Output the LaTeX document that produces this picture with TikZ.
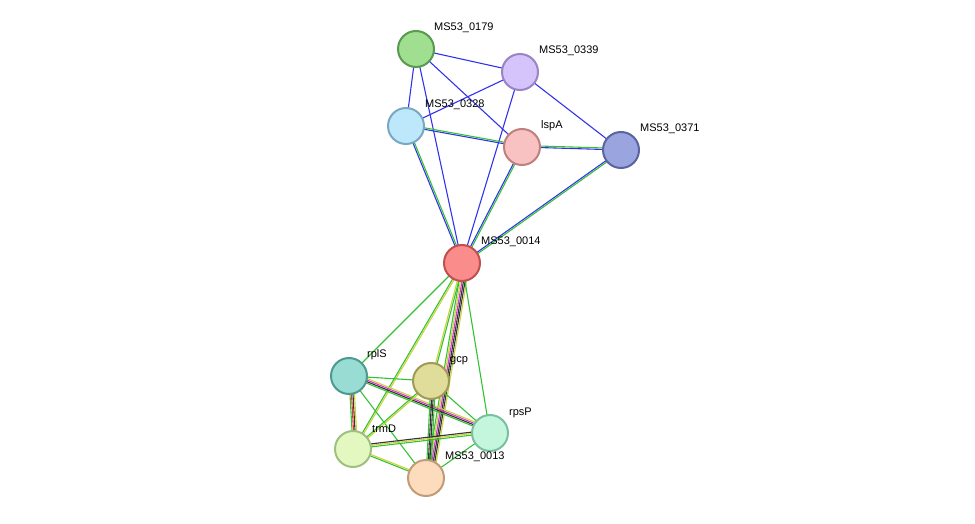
\documentclass[tikz,border=0pt]{standalone}
\usepackage{fontspec}
\setmainfont{Liberation Sans}
\usetikzlibrary{calc}
\definecolor{eg}{HTML}{33C233}
\definecolor{eb}{HTML}{3333EE}
\definecolor{ey}{HTML}{C8D43A}
\definecolor{em}{HTML}{DD33DD}
\definecolor{ek}{HTML}{333333}
\definecolor{er}{HTML}{EE3333}
\tikzset{x=1pt,y=-1pt,
 nd/.style={circle,minimum size=36pt,inner sep=0pt,line width=2pt},
 lb/.style={font=\fontsize{11}{12}\selectfont,anchor=south west,inner sep=0pt},
 ed/.style={line width=1.1pt}}
\newcommand\medge[3]{%
 \foreach \c [count=\i] in {#3}{%
  \pgfmathsetmacro\off{(\i-1)*1.5}%
  \draw[ed,\c] ($(#1)!\off pt!90:(#2)$) -- ($(#2)!\off pt!-90:(#1)$);}}
\begin{document}
\begin{tikzpicture}
\useasboundingbox (0,0) rectangle (975,524);
\coordinate (a) at (416,49);
\coordinate (b) at (520,72);
\coordinate (c) at (406,126);
\coordinate (d) at (522,147);
\coordinate (e) at (621,150);
\coordinate (f) at (462,263);
\coordinate (g) at (349,376);
\coordinate (h) at (431,381);
\coordinate (i) at (490,433);
\coordinate (j) at (353,449);
\coordinate (k) at (426,478);
% upper
\medge{a}{b}{eb}\medge{a}{c}{eb}\medge{a}{d}{eb}\medge{a}{f}{eb}
\medge{b}{c}{eb}\medge{b}{f}{eb}\medge{b}{e}{eb}
\medge{c}{d}{eb,eg}\medge{c}{f}{eb,eg}\medge{d}{e}{eb,eg}
\medge{d}{f}{eb,eg}\medge{e}{f}{eb,eg}
% lower
\medge{f}{g}{eg}\medge{f}{j}{eg,ey}\medge{f}{h}{ey,eg}
\medge{f}{k}{eg,ey,em,ek,ek,ey}\medge{f}{i}{eg}
\medge{g}{h}{eg}\medge{g}{i}{eg,ek,em,ey}\medge{g}{j}{eg,er,ek,ey}
\medge{g}{k}{eg}\medge{h}{j}{eg,ey}\medge{h}{i}{eg}
\medge{h}{k}{eg,ek,ek,eg}\medge{j}{i}{eg,ey,ek}\medge{j}{k}{eg,ey}
\medge{k}{i}{eg}
% nodes
\node[nd,fill={rgb,255:red,159;green,223;blue,143},draw={rgb,255:red,90;green,154;blue,80}] (na) at (a) {};
\node[nd,fill={rgb,255:red,213;green,195;blue,251},draw={rgb,255:red,155;green,131;blue,196}] (nb) at (b) {};
\node[nd,fill={rgb,255:red,189;green,232;blue,252},draw={rgb,255:red,122;green,167;blue,194}] (nc) at (c) {};
\node[nd,fill={rgb,255:red,248;green,194;blue,194},draw={rgb,255:red,192;green,128;blue,128}] (ndd) at (d) {};
\node[nd,fill={rgb,255:red,154;green,165;blue,224},draw={rgb,255:red,90;green,100;blue,160}] (ne) at (e) {};
\node[nd,fill={rgb,255:red,251;green,140;blue,140},draw={rgb,255:red,192;green,80;blue,80}] (nf) at (f) {};
\node[nd,fill={rgb,255:red,152;green,220;blue,212},draw={rgb,255:red,78;green,154;blue,144}] (ng) at (g) {};
\node[nd,fill={rgb,255:red,224;green,220;blue,154},draw={rgb,255:red,160;green,154;blue,88}] (nh) at (h) {};
\node[nd,fill={rgb,255:red,196;green,246;blue,222},draw={rgb,255:red,122;green,192;blue,158}] (ni) at (i) {};
\node[nd,fill={rgb,255:red,227;green,248;blue,192},draw={rgb,255:red,160;green,192;blue,128}] (nj) at (j) {};
\node[nd,fill={rgb,255:red,253;green,220;blue,190},draw={rgb,255:red,192;green,156;blue,120}] (nk) at (k) {};
% labels
\node[lb] (la) at (434,33) {MS53\_0179};
\node[lb] (lb2) at (539,56) {MS53\_0339};
\node[lb] (lc) at (425,110) {MS53\_0328};
\node[lb] (ld) at (541,131) {lspA};
\node[lb] (le) at (640,134) {MS53\_0371};
\node[lb] (lf) at (481,247) {MS53\_0014};
\node[lb] (lg) at (367,360) {rplS};
\node[lb] (lh) at (450,365) {gcp};
\node[lb] (li) at (509,418) {rpsP};
\node[lb] (lj) at (372,433) {trmD};
\node[lb] (lk) at (445,462) {MS53\_0013};
\end{tikzpicture}
\end{document}
